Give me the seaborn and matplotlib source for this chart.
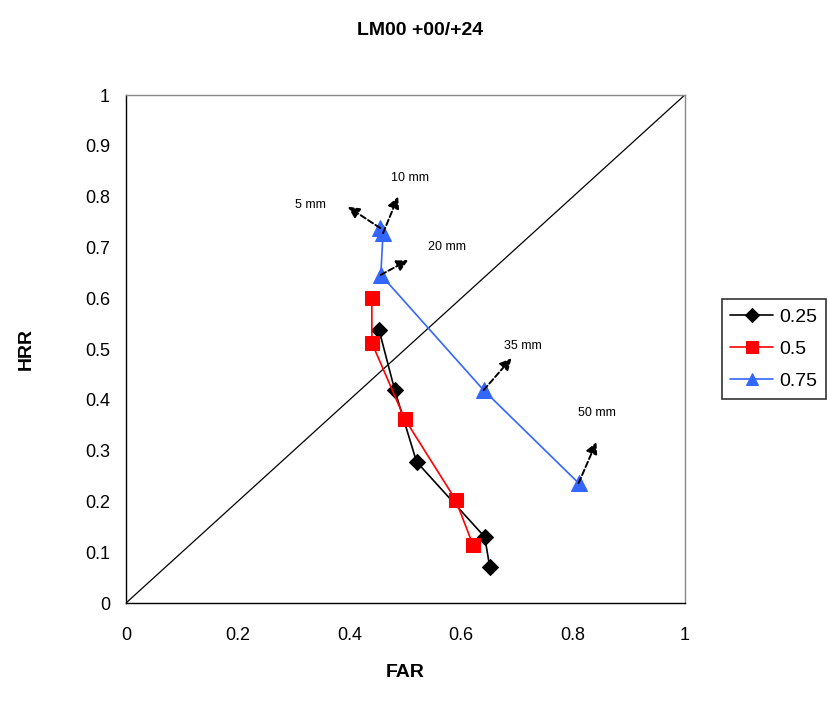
import matplotlib
matplotlib.use("Agg")
import matplotlib.pyplot as plt
import seaborn as sns
import pandas as pd

sns.set_style("white")
plt.rcParams['font.family'] = ['Liberation Sans', 'DejaVu Sans']
plt.rcParams['text.color'] = 'black'
plt.rcParams['axes.labelcolor'] = 'black'
plt.rcParams['xtick.color'] = 'black'
plt.rcParams['ytick.color'] = 'black'

# Data
far_025 = [0.453, 0.481, 0.520, 0.642, 0.651]
hrr_025 = [0.537, 0.419, 0.278, 0.130, 0.071]
far_05 = [0.440, 0.440, 0.499, 0.590, 0.621]
hrr_05 = [0.600, 0.512, 0.362, 0.203, 0.114]
far_075 = [0.455, 0.460, 0.456, 0.640, 0.810]
hrr_075 = [0.738, 0.728, 0.646, 0.419, 0.236]
series_names = ["0.25", "0.5", "0.75"]
thresholds = ["5 mm", "10 mm", "20 mm", "35 mm", "50 mm"]
arrow_tips_x = [0.397, 0.487, 0.505, 0.690, 0.842]
arrow_tips_y = [0.780, 0.800, 0.675, 0.482, 0.317]
label_x = [0.33, 0.508, 0.574, 0.71, 0.842]
label_y = [0.784, 0.836, 0.700, 0.506, 0.374]

df = pd.concat([
    pd.DataFrame({"FAR": far_025, "HRR": hrr_025, "s": series_names[0], "o": range(5)}),
    pd.DataFrame({"FAR": far_05, "HRR": hrr_05, "s": series_names[1], "o": range(5)}),
    pd.DataFrame({"FAR": far_075, "HRR": hrr_075, "s": series_names[2], "o": range(5)}),
])

fig = plt.figure(figsize=(8.29, 7.09), dpi=100)
ax = fig.add_axes([0.152, 0.1495, 0.674, 0.7165])

colors = {"0.25": "black", "0.5": "#ff0000", "0.75": "#3366ff"}
markers = {"0.25": "D", "0.5": "s", "0.75": "^"}
msize = {"0.25": 8, "0.5": 10, "0.75": 11}

# diagonal
ax.plot([0, 1], [0, 1], color="black", lw=0.9, zorder=1)

for name in series_names:
    sub = df[df["s"] == name]
    sns.lineplot(data=sub, x="FAR", y="HRR", sort=False, estimator=None,
                 color=colors[name], marker=markers[name], markersize=msize[name],
                 markeredgecolor=colors[name], lw=1.2, ax=ax, label=name, zorder=3)

# arrows for thresholds (blue series points)
for i, t in enumerate(thresholds):
    ax.annotate("", xy=(arrow_tips_x[i], arrow_tips_y[i]), xytext=(far_075[i], hrr_075[i]),
                arrowprops=dict(arrowstyle="-|>", color="black", lw=1.4,
                                linestyle=(0, (3, 1.5)), mutation_scale=17,
                                shrinkA=0, shrinkB=0), zorder=4)
    ax.text(label_x[i], label_y[i], t, fontsize=9, ha="center", va="center")

ax.set_xlim(0, 1)
ax.set_ylim(0, 1)
ax.set_xticks([0, 0.2, 0.4, 0.6, 0.8, 1])
ax.set_xticklabels(["0", "0.2", "0.4", "0.6", "0.8", "1"])
ax.set_yticks([i / 10 for i in range(11)])
ax.set_yticklabels(["0"] + [f"{i/10:.1f}" for i in range(1, 10)] + ["1"])
ax.tick_params(axis="both", direction="inout", length=7, width=1, labelsize=13)
ax.tick_params(axis="x", pad=14)
ax.tick_params(axis="y", pad=8)
for sp in ax.spines.values():
    sp.set_color("black")
    sp.set_linewidth(1)
ax.spines["top"].set_color("#888888")
ax.spines["right"].set_color("#888888")

ax.set_xlabel("FAR", fontsize=14, fontweight="bold", labelpad=14)
ax.set_ylabel("HRR", fontsize=14, fontweight="bold", labelpad=36)
fig.text(0.507, 0.957, "LM00 +00/+24", fontsize=14, fontweight="bold", ha="center", va="center")

leg = ax.legend(loc="center left", bbox_to_anchor=(1.066, 0.5), frameon=True,
                fontsize=14, fancybox=False, edgecolor="black", borderpad=0.45,
                handlelength=2.2, handletextpad=0.3, labelspacing=0.75, borderaxespad=0,
                markerscale=0.85)
leg.get_frame().set_linewidth(1.2)

fig.savefig("out.png", dpi=100)
